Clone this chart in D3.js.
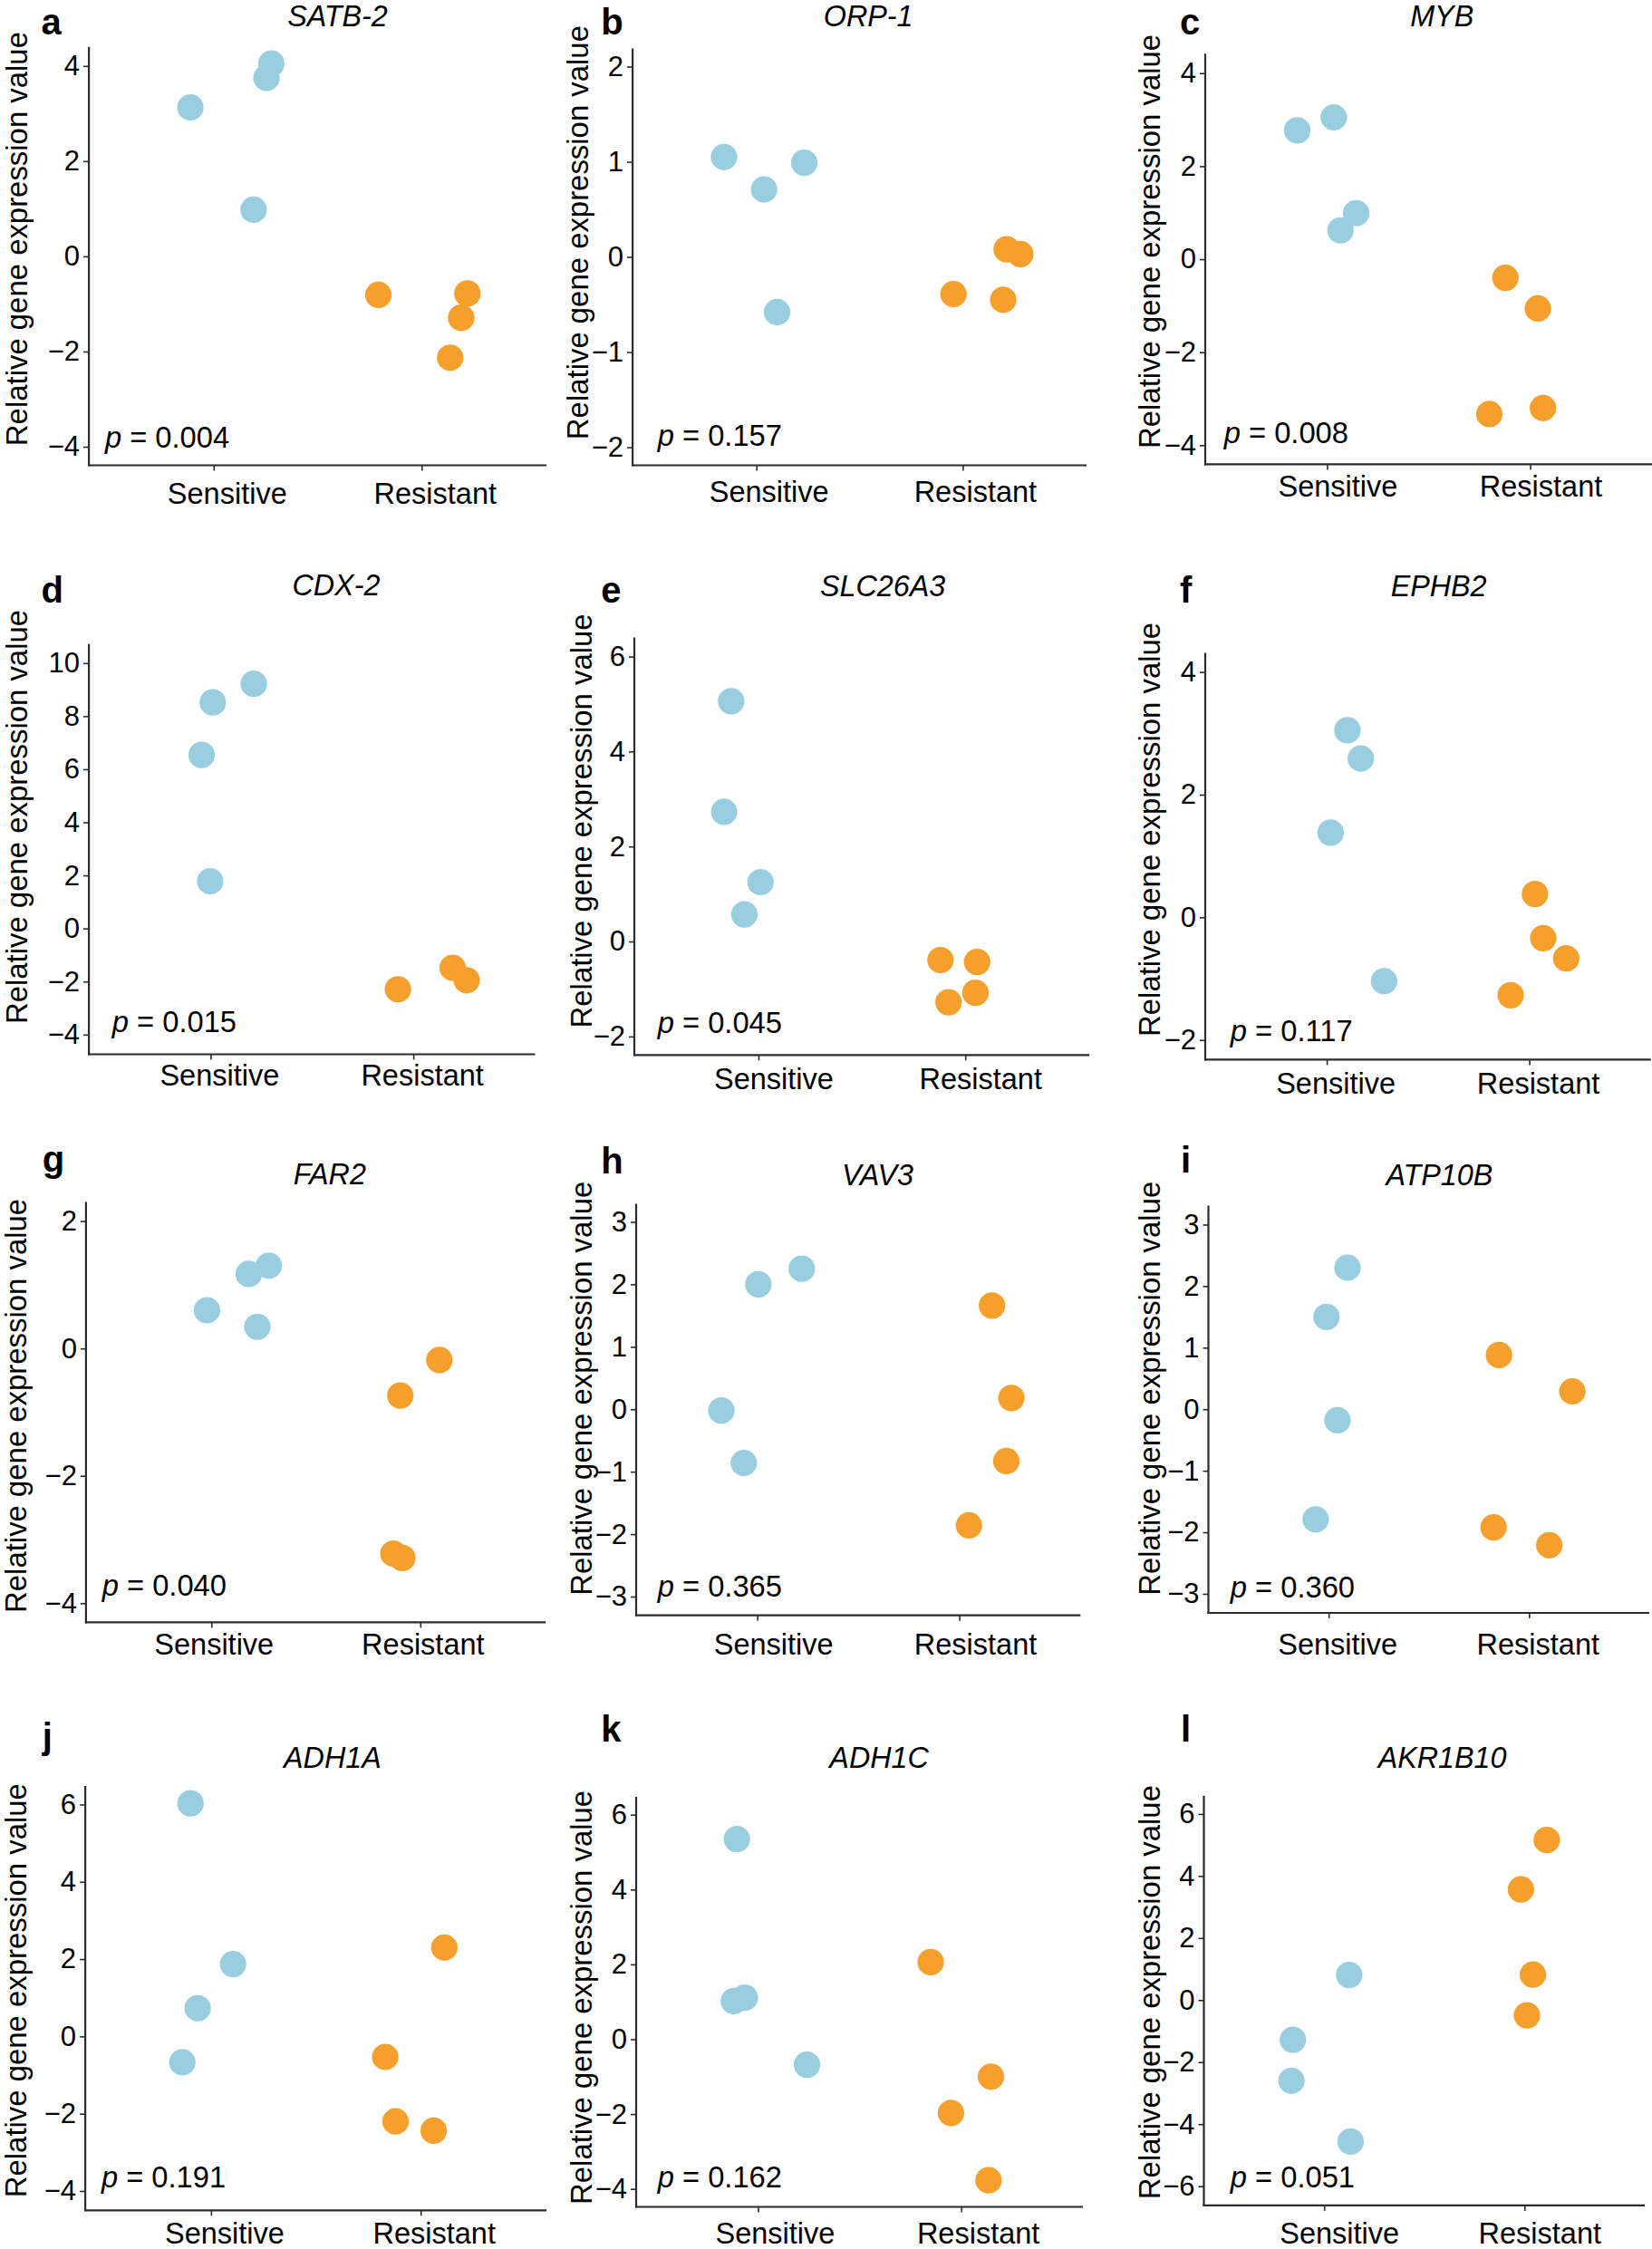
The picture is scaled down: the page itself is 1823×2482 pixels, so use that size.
<!DOCTYPE html>
<html>
<head>
<meta charset="utf-8">
<script src="https://cdn.jsdelivr.net/npm/d3@7"></script>
<style>
  html, body { margin: 0; padding: 0; background: #fff; }
  svg { display: block; font-family: "Liberation Sans", Arial, Helvetica, sans-serif; }
</style>
</head>
<body>
<svg id="chart" width="1823" height="2482"></svg>
<script>
// ---------------- data ----------------
const panelLetters = ["a","b","c","d","e","f","g","h","i","j","k","l"];
const genes = ["SATB-2","ORP-1","MYB","CDX-2","SLC26A3","EPHB2","FAR2","VAV3","ATP10B","ADH1A","ADH1C","AKR1B10"];
const pValues = ["0.004","0.157","0.008","0.015","0.045","0.117","0.040","0.365","0.360","0.191","0.162","0.051"];
const groups = ["Sensitive","Resistant"];

const sensitiveValues = [
  [3.13, 4.05, 3.75, 0.98],
  [1.05, 0.71, 0.99, -0.58],
  [2.77, 3.05, 0.99, 0.62],
  [8.52, 9.22, 6.54, 1.78],
  [5.06, 2.73, 1.25, 0.57],
  [3.05, 2.59, 1.38, -1.04],
  [0.60, 1.17, 1.30, 0.34],
  [2.00, 2.25, -0.02, -0.86],
  [2.30, 1.50, -0.18, -1.79],
  [6.03, 1.87, 0.73, -0.67],
  [5.35, 1.02, 1.11, -0.68],
  [0.81, -1.28, -2.60, -4.56]
];
const resistantValues = [
  [-0.81, -0.78, -1.29, -2.13],
  [0.08, 0.03, -0.39, -0.45],
  [-0.40, -1.06, -3.33, -3.20],
  [-2.29, -1.48, -1.95],
  [-0.39, -0.43, -1.08, -1.28],
  [0.38, -0.34, -0.67, -1.27],
  [-0.18, -0.74, -3.22, -3.29],
  [1.66, 0.18, -0.83, -1.86],
  [0.88, 0.29, -1.92, -2.21],
  [2.30, -0.53, -2.20, -2.44],
  [2.06, -1.00, -1.97, -3.77],
  [5.16, 3.57, 0.82, -0.49]
];
// horizontal jitter of each point, in category-step units
const sensitiveJitter = [
  [-0.112, 0.277, 0.254, 0.192],
  [-0.157, 0.037, 0.232, 0.100],
  [-0.147, 0.033, 0.143, 0.066],
  [0.011, 0.213, -0.044, -0.002],
  [-0.132, -0.166, 0.010, -0.068],
  [0.102, 0.168, 0.019, 0.283],
  [-0.021, 0.179, 0.275, 0.220],
  [0.005, 0.220, -0.178, -0.067],
  [0.094, -0.011, 0.044, -0.065],
  [-0.098, 0.105, -0.064, -0.137],
  [-0.104, -0.119, -0.065, 0.241],
  [0.125, -0.156, -0.163, 0.132]
];
const resistantJitter = [
  [-0.208, 0.220, 0.190, 0.137],
  [0.213, 0.279, -0.045, 0.196],
  [-0.122, 0.038, -0.201, 0.063],
  [-0.076, 0.194, 0.263],
  [-0.120, 0.057, 0.049, -0.081],
  [0.028, 0.069, 0.182, -0.092],
  [0.091, -0.096, -0.129, -0.086],
  [0.162, 0.258, 0.233, 0.048],
  [-0.150, 0.216, -0.177, 0.101],
  [0.113, -0.169, -0.120, 0.062],
  [-0.150, 0.147, -0.050, 0.135],
  [0.111, -0.018, 0.042, 0.012]
];
const yDomains = [
  [-4.39, 4.40], [-2.19, 2.19], [-4.41, 4.42],
  [-4.74, 10.72], [-2.39, 6.40], [-2.32, 4.31],
  [-4.30, 2.30], [-3.30, 3.29], [-3.31, 3.31],
  [-4.50, 6.48], [-4.48, 6.48], [-6.62, 6.59]
];
const yTicks = [
  [-4,-2,0,2,4], [-2,-1,0,1,2], [-4,-2,0,2,4],
  [-4,-2,0,2,4,6,8,10], [-2,0,2,4,6], [-2,0,2,4],
  [-4,-2,0,2], [-3,-2,-1,0,1,2,3], [-3,-2,-1,0,1,2,3],
  [-4,-2,0,2,4,6], [-4,-2,0,2,4,6], [-6,-4,-2,0,2,4,6]
];
const yAxisTitle = "Relative gene expression value";

// ---------------- layout (pixels) ----------------
// [left, top, right, bottom, titleX, titleY, letterX, letterY, ylabX, ylabY, pX, pY, xlabY, xlabDx]
const layout = [
  [98.1, 51.8, 603, 513.5, 372.5, 29, 45.5, 38, 29.7, 263.6, 115.9, 493.9, 556, 15],
  [698.1, 53.6, 1199, 513.5, 958.2, 29, 663.3, 38, 649.4, 256.6, 725.7, 492, 553.8, 14],
  [1330, 59.2, 1823, 512.4, 1591.2, 29, 1301.9, 38, 1280.4, 266.4, 1350.7, 489.1, 547.5, 12],
  [98.1, 710.7, 590.4, 1163.5, 370.9, 657.3, 45.5, 665.2, 29.7, 901.5, 123.8, 1138.6, 1197.9, 10],
  [700, 703.6, 1202.2, 1164.3, 974.1, 658.1, 663.3, 665.2, 653.4, 905.9, 725.7, 1139.7, 1201.8, 17],
  [1330, 720.6, 1821.7, 1169.4, 1587.6, 658.1, 1301.9, 665.2, 1280.4, 915.4, 1357.8, 1148.8, 1207, 10],
  [94.9, 1326.5, 602.2, 1790.4, 363.8, 1307.4, 46.7, 1292.9, 28.5, 1551.4, 112.7, 1760.9, 1826, 3],
  [702, 1328.5, 1192.3, 1782.7, 968.5, 1308.2, 663.3, 1294.8, 653.4, 1532.3, 725.7, 1762, 1826, 18],
  [1333.5, 1330.4, 1820, 1780, 1588.4, 1308.2, 1303, 1294, 1280.4, 1532.3, 1357.8, 1762.8, 1826, 10],
  [94.1, 1971, 603, 2439.3, 366.9, 1951, 46.7, 1929.9, 28.5, 2196.7, 111.9, 2413.6, 2476, 15],
  [702, 1982.9, 1195.1, 2435.5, 970.1, 1951, 663.3, 1921.5, 653.4, 2204.4, 725.7, 2413.6, 2476, 19],
  [1328.5, 1981.7, 1815, 2433.9, 1591.6, 1951, 1303, 1921.5, 1280.4, 2198.6, 1357.8, 2413.6, 2476, 17]
];

const colorSens = "#98cee0";
const colorRes = "#f5a02d";
const axisColor = "#2b2b2b";
const ptRadius = 14.6;

const svg = d3.select("#chart");

panelLetters.forEach((letter, i) => {
  const [L, T, R, B, tX, tY, lX, lY, yX, yY, pX, pY, xlY, xlDx] = layout[i];
  const g = svg.append("g");

  const x = d3.scalePoint().domain(groups).range([L, R]).padding(0.6);
  const step = x.step();
  const y = d3.scaleLinear().domain(yDomains[i]).range([B, T]);

  // y axis
  const yAx = g.append("g").attr("transform", `translate(${L},0)`)
    .call(d3.axisLeft(y).tickValues(yTicks[i]).tickSize(6).tickPadding(4)
      .tickFormat(d => d < 0 ? "\u2212" + Math.abs(d) : String(d)));
  yAx.select(".domain").remove();
  yAx.selectAll(".tick line").attr("stroke", axisColor).attr("stroke-width", 1.6);
  yAx.selectAll(".tick text").attr("fill", "#000").attr("font-size", 31)
    .attr("font-family", "'Liberation Sans', Arial, sans-serif");

  // x axis
  const xAx = g.append("g").attr("transform", `translate(0,${B})`)
    .call(d3.axisBottom(x).tickSize(6).tickFormat(""));
  xAx.select(".domain").remove();
  xAx.selectAll(".tick line").attr("stroke", axisColor).attr("stroke-width", 1.6);

  // x tick labels
  g.selectAll("text.xlab").data(groups).enter().append("text")
    .attr("class", "xlab")
    .attr("x", d => x(d) + xlDx)
    .attr("y", xlY)
    .attr("text-anchor", "middle")
    .attr("font-size", 32.5)
    .attr("fill", "#000")
    .text(d => d);

  // axis lines
  g.append("line").attr("x1", L).attr("x2", L).attr("y1", T).attr("y2", B + 1)
    .attr("stroke", axisColor).attr("stroke-width", 2.2);
  g.append("line").attr("x1", L - 1).attr("x2", R).attr("y1", B).attr("y2", B)
    .attr("stroke", axisColor).attr("stroke-width", 2.2);

  // points
  const pts = [];
  sensitiveValues[i].forEach((v, k) => pts.push({ grp: "Sensitive", v, j: sensitiveJitter[i][k] }));
  resistantValues[i].forEach((v, k) => pts.push({ grp: "Resistant", v, j: resistantJitter[i][k] }));
  g.selectAll("circle").data(pts).enter().append("circle")
    .attr("cx", d => x(d.grp) + d.j * step)
    .attr("cy", d => y(d.v))
    .attr("r", ptRadius)
    .attr("fill", d => d.grp === "Sensitive" ? colorSens : colorRes);

  // y axis title
  g.append("text")
    .attr("transform", `translate(${yX},${yY}) rotate(-90)`)
    .attr("text-anchor", "middle")
    .attr("font-size", 32.9)
    .attr("fill", "#000")
    .text(yAxisTitle);

  // gene title
  g.append("text")
    .attr("x", tX).attr("y", tY)
    .attr("text-anchor", "middle")
    .attr("font-size", 32.3)
    .attr("font-style", "italic")
    .attr("fill", "#000")
    .text(genes[i]);

  // panel letter
  g.append("text")
    .attr("x", lX).attr("y", lY)
    .attr("font-size", 40)
    .attr("font-weight", "bold")
    .attr("fill", "#000")
    .text(letter);

  // p value
  const pt = g.append("text")
    .attr("x", pX).attr("y", pY)
    .attr("font-size", 32.7)
    .attr("fill", "#000");
  pt.append("tspan").attr("font-style", "italic").text("p");
  pt.append("tspan").text(" = " + pValues[i]);
});
</script>
</body>
</html>
